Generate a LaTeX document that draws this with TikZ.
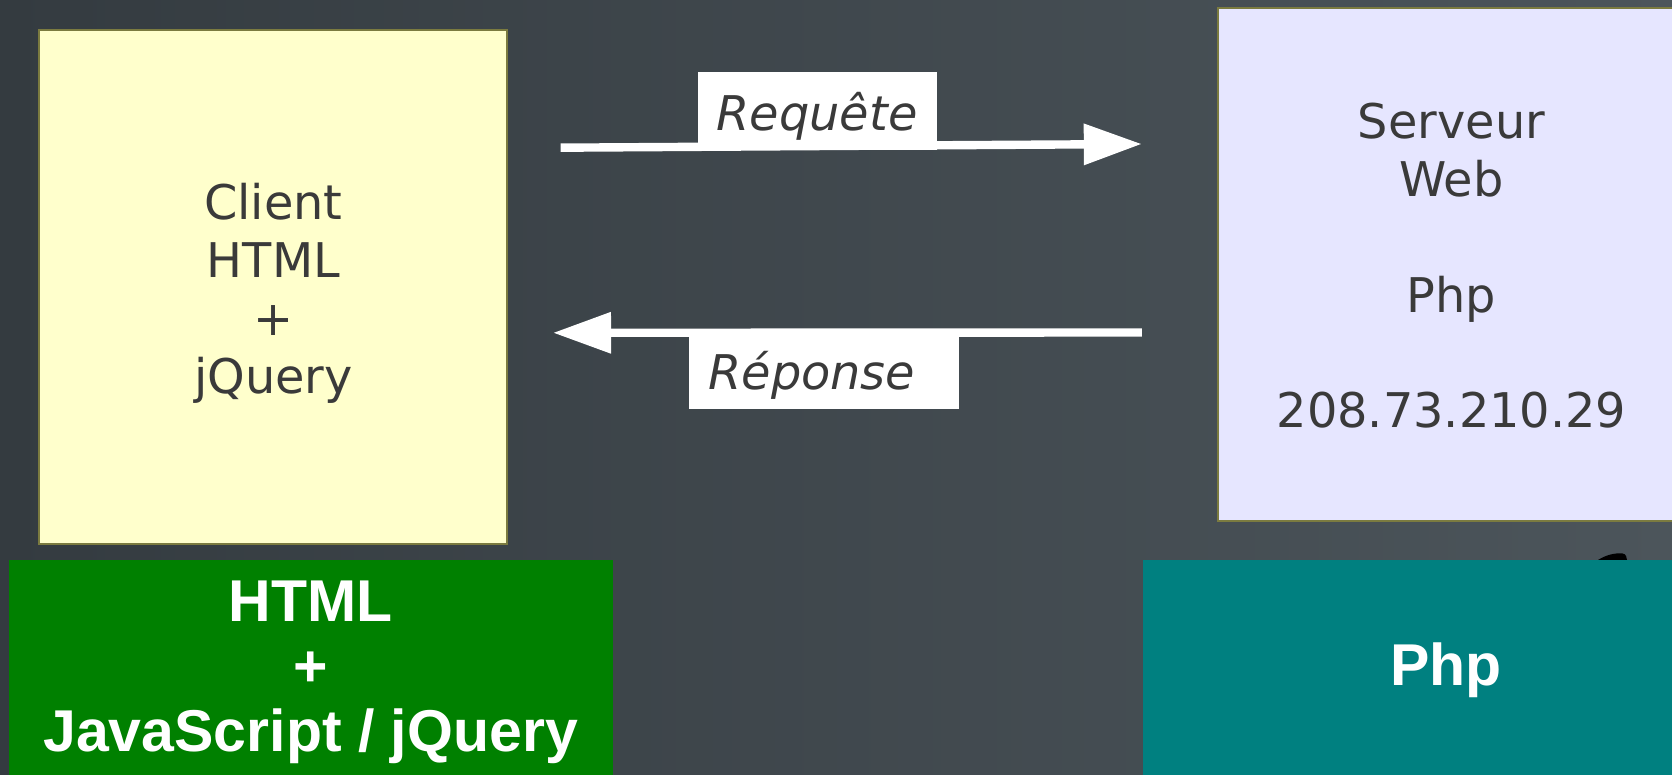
\documentclass[tikz,border=0pt]{standalone}
\usepackage{fontspec}
\setmainfont{DejaVu Sans}[ItalicFont={DejaVu Sans Oblique},BoldFont={DejaVu Sans Bold}]
\newfontfamily\arialfont{Liberation Sans}
\usetikzlibrary{arrows.meta}
\definecolor{bgL}{HTML}{343B40}
\definecolor{bgR}{HTML}{4C555B}
\definecolor{clientfill}{HTML}{FFFFCC}
\definecolor{serverfill}{HTML}{E6E6FF}
\definecolor{boxborder}{HTML}{7B7B40}
\definecolor{txt}{HTML}{3A3A3A}
\definecolor{greenbox}{HTML}{008000}
\definecolor{tealbox}{HTML}{008080}
\begin{document}
\begin{tikzpicture}[x=1pt,y=-1pt,
  panel/.style={draw=boxborder, line width=2pt, inner sep=0pt},
  bar/.style={draw=none, inner sep=0pt},
  boxtext/.style={text=txt, font=\fontsize{47.8}{57.8}\selectfont, align=center, inner sep=0pt},
  bartext/.style={text=white, font=\arialfont\bfseries\fontsize{59}{65}\selectfont, align=center, inner sep=0pt},
  flow/.style={draw=white, line width=8.4pt, -{Triangle[length=58pt,width=39.4pt]}},
  lbl/.style={fill=white, text=txt, font=\fontsize{47.8}{57.8}\selectfont\itshape, inner ysep=0pt, align=left}]
\useasboundingbox (0,0) rectangle (1672,775);
\shade[left color=bgL, right color=bgR] (0,0) rectangle (1672,775);
% small dark shape peeking above the Php bar
\fill[black] (1598,560) .. controls (1606,555) and (1614,553) .. (1622,553.3) .. controls (1626,554) and (1627,557) .. (1627,560) -- cycle;
% panels
\node[panel, fill=clientfill, minimum width=468pt, minimum height=513.5pt] (client) at (272.5,286.75) {};
\node[panel, line width=1.5pt, fill=serverfill, minimum width=462pt, minimum height=513pt] (server) at (1449,264.5) {};
\node[bar, fill=greenbox, minimum width=604pt, minimum height=220pt] (front) at (310.5,670) {};
\node[bar, fill=tealbox, minimum width=547pt, minimum height=220pt] (back) at (1416.5,670) {};
% arrows
\coordinate (reqA) at (560.6,147.7);
\coordinate (reqB) at (1141.8,144);
\coordinate (repA) at (1141.8,332.5);
\coordinate (repB) at (553,332.8);
\draw[flow] (reqA) -- (reqB);
\draw[flow] (repA) -- (repB);
\node[lbl, anchor=base west, text height=58.4pt, text depth=19.3pt, inner xsep=19pt, text width=201.2pt] (req) at (697.4,130.7) {Requête};
\node[lbl, anchor=base west, text height=52.6pt, text depth=20pt, inner xsep=19.5pt, text width=231.4pt] (rep) at (688.7,389.3) {Réponse};
% texts
\node[boxtext] (clienttxt) at (273.4,293.5) {Client\\HTML\\+\\jQuery};
\node[boxtext] (servertxt) at (1451.5,266) {Serveur\\Web\\[57.8pt]Php\\[57.8pt]208.73.210.29};
\node[bartext] (fronttxt) at (310.6,672.8) {HTML\\+\\JavaScript / jQuery};
\node[bartext, anchor=base] (backtxt) at (1445.8,685.7) {Php};
\end{tikzpicture}
\end{document}
